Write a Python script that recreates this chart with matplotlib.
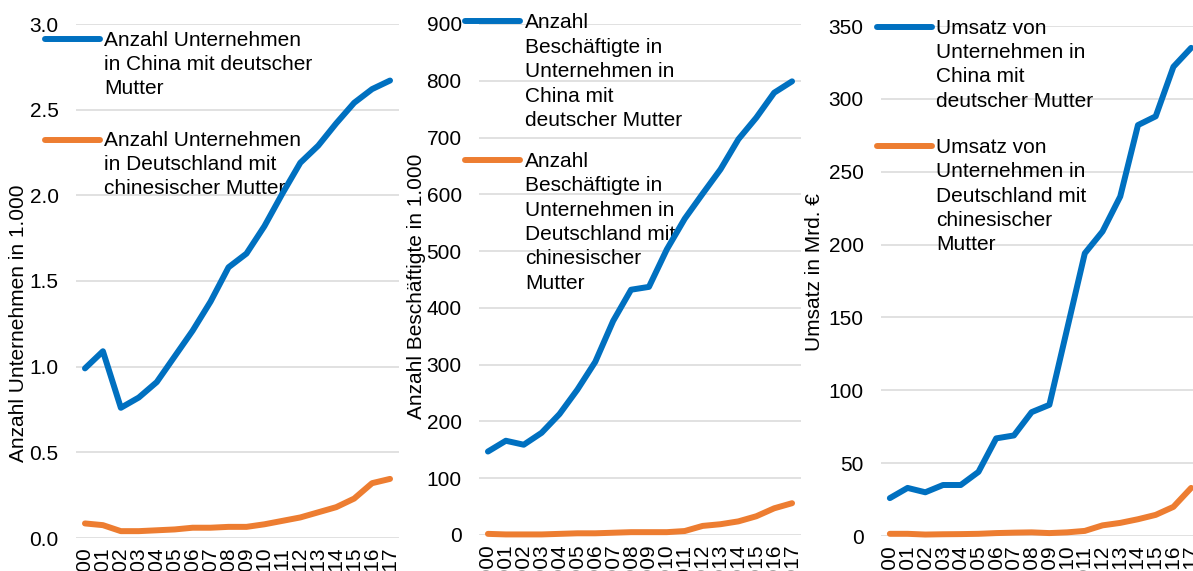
import matplotlib
matplotlib.use("Agg")
import matplotlib.pyplot as plt
from matplotlib.lines import Line2D

plt.rcParams["font.family"] = ["Liberation Sans", "DejaVu Sans"]

W, H = 1193, 571

years = [str(y) for y in range(2000, 2018)]

# Anzahl Unternehmen (in 1.000)
firms_cn_de = [0.99, 1.09, 0.76, 0.82, 0.91, 1.06, 1.21, 1.38, 1.58, 1.66,
               1.82, 2.01, 2.19, 2.29, 2.42, 2.54, 2.62, 2.67]
firms_de_cn = [0.085, 0.075, 0.04, 0.04, 0.045, 0.05, 0.06, 0.06, 0.065, 0.065,
               0.08, 0.10, 0.12, 0.15, 0.18, 0.23, 0.32, 0.345]

# Anzahl Beschäftigte (in 1.000)
empl_cn_de = [147, 166, 159, 180, 213, 256, 305, 377, 432, 437,
              503, 557, 601, 644, 697, 735, 779, 799]
empl_de_cn = [2, 1, 1, 1, 2, 3, 3, 4, 5, 5, 5, 7, 16, 19, 24, 33, 47, 56]

# Umsatz (Mrd. €)
sales_cn_de = [26, 33, 30, 35, 35, 44, 67, 69, 85, 90,
               142, 194, 209, 233, 282, 288, 322, 335]
sales_de_cn = [1.5, 1.5, 1, 1.2, 1.3, 1.5, 2, 2.3, 2.5, 2, 2.5, 3.5, 7.3, 9,
               11.5, 14.5, 20, 33]

BLUE = "#0070C0"
ORANGE = "#ED7D31"
GRID = "#D9D9D9"
FS = 15

fig = plt.figure(figsize=(W / 100, H / 100), dpi=100)


def fx(px):
    return px / W


def fy(py):
    return 1 - py / H


def make_axes(left, right, top, bottom):
    return fig.add_axes([fx(left), fy(bottom), fx(right) - fx(left), fy(top) - fy(bottom)])


def style(ax, ylim, step, fmt):
    ax.set_xlim(-0.5, len(years) - 0.5)
    ax.set_ylim(*ylim)
    n = int(round((ylim[1] - ylim[0]) / step))
    ticks = [ylim[0] + i * step for i in range(n + 1)]
    ax.set_yticks(ticks)
    ax.set_yticklabels([fmt(t) for t in ticks])
    ax.set_xticks(range(len(years)))
    ax.set_xticklabels(years, rotation=90, va="top", ha="center")
    ax.tick_params(axis="both", length=0, labelsize=FS, colors="black")
    ax.tick_params(axis="y", pad=12.5)
    ax.tick_params(axis="x", pad=7)
    for s in ax.spines.values():
        s.set_visible(False)
    ax.grid(axis="y", color=GRID, lw=1.1)
    ax.set_axisbelow(True)


def series(ax, values, color):
    ax.plot(range(len(years)), values, color=color, lw=4.3,
            solid_capstyle="round", solid_joinstyle="round", zorder=3,
            clip_on=False)


def legend_entry(ax, x0, x1, ly, tx, baselines, lines, color):
    ax.add_line(Line2D([fx(x0), fx(x1)], [fy(ly), fy(ly)], transform=fig.transFigure,
                       color=color, lw=4.3, solid_capstyle="round", clip_on=False,
                       zorder=2))
    for b, txt in zip(baselines, lines):
        ax.text(fx(tx), fy(b), txt, transform=fig.transFigure, fontsize=FS,
                va="baseline", ha="left", zorder=1, clip_on=False)


def ylabel(text, x, yc):
    fig.text(fx(x), fy(yc), text, rotation=90, ha="center", va="center", fontsize=FS)


# Panel 1: Unternehmen
ax1 = make_axes(76, 399, 24, 538)
style(ax1, (0, 3.0), 0.5, lambda v: f"{v:.1f}")
series(ax1, firms_cn_de, BLUE)
series(ax1, firms_de_cn, ORANGE)
legend_entry(ax1, 45, 100, 39, 104, [46, 70, 94],
             ["Anzahl Unternehmen", "in China mit deutscher", "Mutter"], BLUE)
legend_entry(ax1, 45, 100, 140, 104, [146, 170, 194],
             ["Anzahl Unternehmen", "in Deutschland mit", "chinesischer Mutter"], ORANGE)
ylabel("Anzahl Unternehmen in 1.000", 19, 323)

# Panel 2: Beschäftigte
ax2 = make_axes(479, 801, 24, 535)
style(ax2, (0, 900), 100, lambda v: f"{v:.0f}")
series(ax2, empl_cn_de, BLUE)
series(ax2, empl_de_cn, ORANGE)
legend_entry(ax2, 465, 520, 21, 525, [28, 53, 77, 101.5, 126],
             ["Anzahl", "Beschäftigte in", "Unternehmen in", "China mit",
              "deutscher Mutter"], BLUE)
legend_entry(ax2, 465, 520, 160, 525, [167, 191, 215.5, 240, 264.5, 289],
             ["Anzahl", "Beschäftigte in", "Unternehmen in", "Deutschland mit",
              "chinesischer", "Mutter"], ORANGE)
ylabel("Anzahl Beschäftigte in 1.000", 417, 286)

# Panel 3: Umsatz
ax3 = make_axes(881, 1200, 26, 536)
style(ax3, (0, 350), 50, lambda v: f"{v:.0f}")
series(ax3, sales_cn_de, BLUE)
series(ax3, sales_de_cn, ORANGE)
legend_entry(ax3, 877, 932, 27, 936, [33.5, 58, 82.5, 107],
             ["Umsatz von", "Unternehmen in", "China mit", "deutscher Mutter"], BLUE)
legend_entry(ax3, 877, 932, 146, 936, [153, 177, 201.5, 226, 250],
             ["Umsatz von", "Unternehmen in", "Deutschland mit", "chinesischer",
              "Mutter"], ORANGE)
ylabel("Umsatz in Mrd. €", 815, 272)

fig.savefig("out.png", dpi=100)
